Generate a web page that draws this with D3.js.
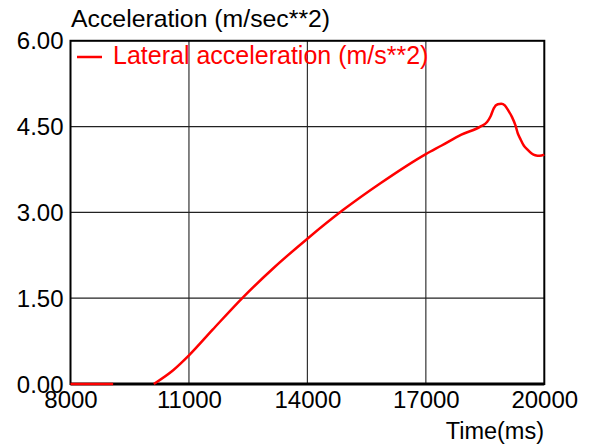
<!DOCTYPE html>
<html><head><meta charset="utf-8">
<script src="https://cdn.jsdelivr.net/npm/d3@7/dist/d3.min.js"></script>
<style>body{margin:0;background:#fff}svg{display:block}text{font-family:"Liberation Sans",Arial,sans-serif}</style>
</head><body>
<svg id="c" width="590" height="444"></svg>
<script>
// data
const timeMs = [8000, 9080, 9600, 10110, 10600, 11000, 11600, 12375, 13130, 14000, 14900, 15850, 17000, 17400, 17900, 18380, 18550, 18640, 18720, 18820, 18910, 19000, 19090, 19180, 19270, 19330, 19390, 19480, 19570, 19680, 19770, 19880, 20000];
const lateralAcc = [0, 0, NaN, 0, 0.24, 0.50, 0.95, 1.52, 2.02, 2.54, 3.04, 3.51, 4.02, 4.17, 4.36, 4.50, 4.58, 4.68, 4.82, 4.89, 4.90, 4.87, 4.78, 4.67, 4.52, 4.38, 4.29, 4.17, 4.10, 4.03, 4.00, 3.99, 4.01];
const xTicks = [8000, 11000, 14000, 17000, 20000];
const yTicks = [0, 1.5, 3, 4.5, 6];
const seriesName = "Lateral acceleration (m/s**2)";
const yTitle = "Acceleration (m/sec**2)";
const xTitle = "Time(ms)";

const svg = d3.select("#c");
const L = 70.5, R = 544.3, T = 40.8, B = 384;
const FS = 24;
const FF = '"Liberation Sans",Arial,sans-serif';
const x = d3.scaleLinear().domain([8000, 20000]).range([L, R]);
const y = d3.scaleLinear().domain([0, 6]).range([B, T]);

// grid
svg.append("g").selectAll("line").data(xTicks.slice(1, -1)).join("line")
  .attr("x1", d => x(d)).attr("x2", d => x(d)).attr("y1", T).attr("y2", B)
  .attr("stroke", "#333").attr("stroke-width", 1.2);
svg.append("g").selectAll("line").data(yTicks.slice(1, -1)).join("line")
  .attr("y1", d => y(d)).attr("y2", d => y(d)).attr("x1", L).attr("x2", R)
  .attr("stroke", "#222").attr("stroke-width", 1.2);

// axes labels
const xa = svg.append("g").attr("transform", `translate(0,${B})`)
  .call(d3.axisBottom(x).tickValues(xTicks).tickSize(0).tickFormat(d3.format("d")));
xa.select(".domain").remove();
xa.selectAll("text").attr("y", 24).attr("dy", 0)
  .attr("font-size", FS).attr("fill", "#000").attr("font-family", FF);

const ya = svg.append("g").attr("transform", `translate(${L},0)`)
  .call(d3.axisLeft(y).tickValues(yTicks).tickSize(0).tickFormat(d3.format(".2f")));
ya.select(".domain").remove();
ya.selectAll("text").attr("x", -7).attr("dy", 0).attr("y", 8)
  .attr("font-size", FS).attr("fill", "#000").attr("font-family", FF);

// frame
svg.append("rect").attr("x", L).attr("y", T).attr("width", R - L).attr("height", B - T)
  .attr("fill", "none").attr("stroke", "#000").attr("stroke-width", 2);
svg.append("line").attr("x1", L).attr("x2", R).attr("y1", B).attr("y2", B)
  .attr("stroke", "#000").attr("stroke-width", 3);

// series
const pts = timeMs.map((t, i) => [t, lateralAcc[i]]);
const line = d3.line().defined(d => !isNaN(d[1])).x(d => x(d[0])).y(d => y(d[1])).curve(d3.curveMonotoneX);
svg.append("path").datum(pts).attr("d", line)
  .attr("fill", "none").attr("stroke", "#ff0000").attr("stroke-width", 2.5).attr("stroke-linejoin", "round");

// titles
svg.append("text").attr("x", 71).attr("y", 27)
  .attr("font-size", 24.8).attr("fill", "#000").text(yTitle);
svg.append("text").attr("x", 544).attr("y", 439)
  .attr("text-anchor", "end").attr("font-size", 23.5).attr("fill", "#000").text(xTitle);

// legend
svg.append("line").attr("x1", 77).attr("x2", 102).attr("y1", 57).attr("y2", 57)
  .attr("stroke", "#ff0000").attr("stroke-width", 2.5);
svg.append("text").attr("x", 113).attr("y", 64)
  .attr("font-size", 25).attr("fill", "#ff0000").text(seriesName);
</script>
</body></html>
